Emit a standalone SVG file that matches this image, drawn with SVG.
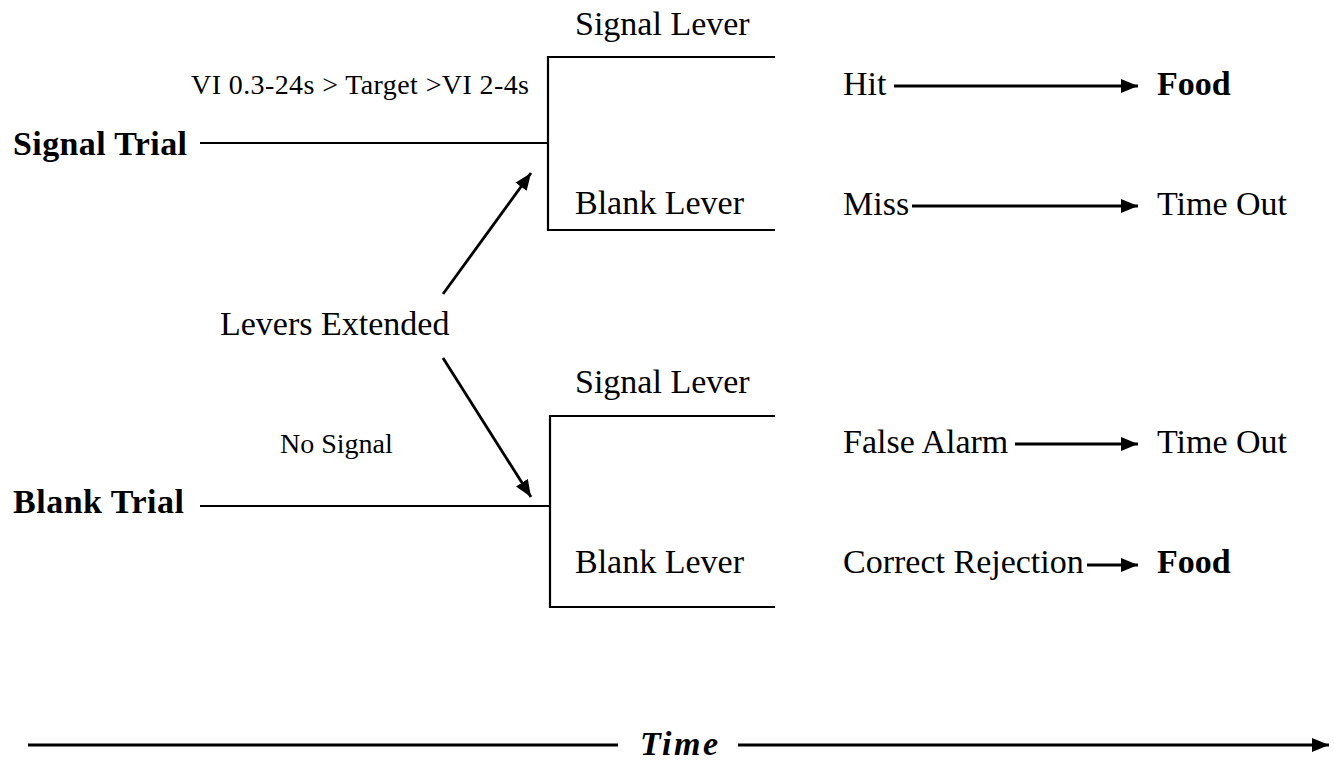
<svg xmlns="http://www.w3.org/2000/svg" width="1334" height="761" viewBox="0 0 1334 761">
<style>
text{font-family:"Liberation Serif","Times New Roman",serif;fill:#000;font-size:34px}
.b{font-weight:bold}
.s{font-size:28px}
.ln{stroke:#000;stroke-width:2.2;fill:none}
.ar{stroke:#000;stroke-width:2.8;fill:none;marker-end:url(#ah)}
.tl{stroke:#000;stroke-width:2.8;fill:none}
</style>
<defs>
<marker id="ah" markerUnits="userSpaceOnUse" markerWidth="18" markerHeight="14" refX="17" refY="7" orient="auto">
<path d="M0,0 L17,7 L0,14 z" fill="#000"/>
</marker>
</defs>
<g id="signal-trial"><text class="b" x="13" y="155" textLength="174">Signal Trial</text></g>
<g id="vi-label"><text class="s" x="191" y="94" textLength="338">VI 0.3-24s &gt; Target &gt;VI 2-4s</text></g>
<g id="signal-lever-1"><text x="575" y="35">Signal Lever</text></g>
<g id="blank-lever-1"><text x="575" y="214">Blank Lever</text></g>
<g id="hit"><text x="843" y="95">Hit</text></g>
<g id="food-1"><text class="b" x="1157" y="95">Food</text></g>
<g id="miss"><text x="843" y="215">Miss</text></g>
<g id="timeout-1"><text x="1157" y="215">Time Out</text></g>
<g id="levers-extended"><text x="220" y="335">Levers Extended</text></g>
<g id="no-signal"><text class="s" x="280" y="453">No Signal</text></g>
<g id="blank-trial"><text class="b" x="13" y="513" textLength="171">Blank Trial</text></g>
<g id="signal-lever-2"><text x="575" y="393">Signal Lever</text></g>
<g id="blank-lever-2"><text x="575" y="573">Blank Lever</text></g>
<g id="false-alarm"><text x="843" y="453">False Alarm</text></g>
<g id="timeout-2"><text x="1157" y="453">Time Out</text></g>
<g id="correct-rejection"><text x="843" y="573">Correct Rejection</text></g>
<g id="food-2"><text class="b" x="1157" y="573">Food</text></g>
<g id="time"><text class="b" font-style="italic" x="640" y="755" textLength="78">Time</text></g>
<g id="connectors">
<path class="ln" d="M200,143 H548 M775,57 H548 V230 H775"/>
<path class="ln" d="M200,506 H550 M775,416 H550 V607 H775"/>
<path class="ar" d="M443,294 L531,173"/>
<path class="ar" d="M443,358 L531,497"/>
<path class="ar" d="M894,86 H1138"/>
<path class="ar" d="M912,206 H1138"/>
<path class="ar" d="M1015,444 H1138"/>
<path class="ar" d="M1087,565 H1138"/>
<path class="tl" d="M28,745 H618"/>
<path class="ar" d="M738,745 H1329"/>
</g>
</svg>
